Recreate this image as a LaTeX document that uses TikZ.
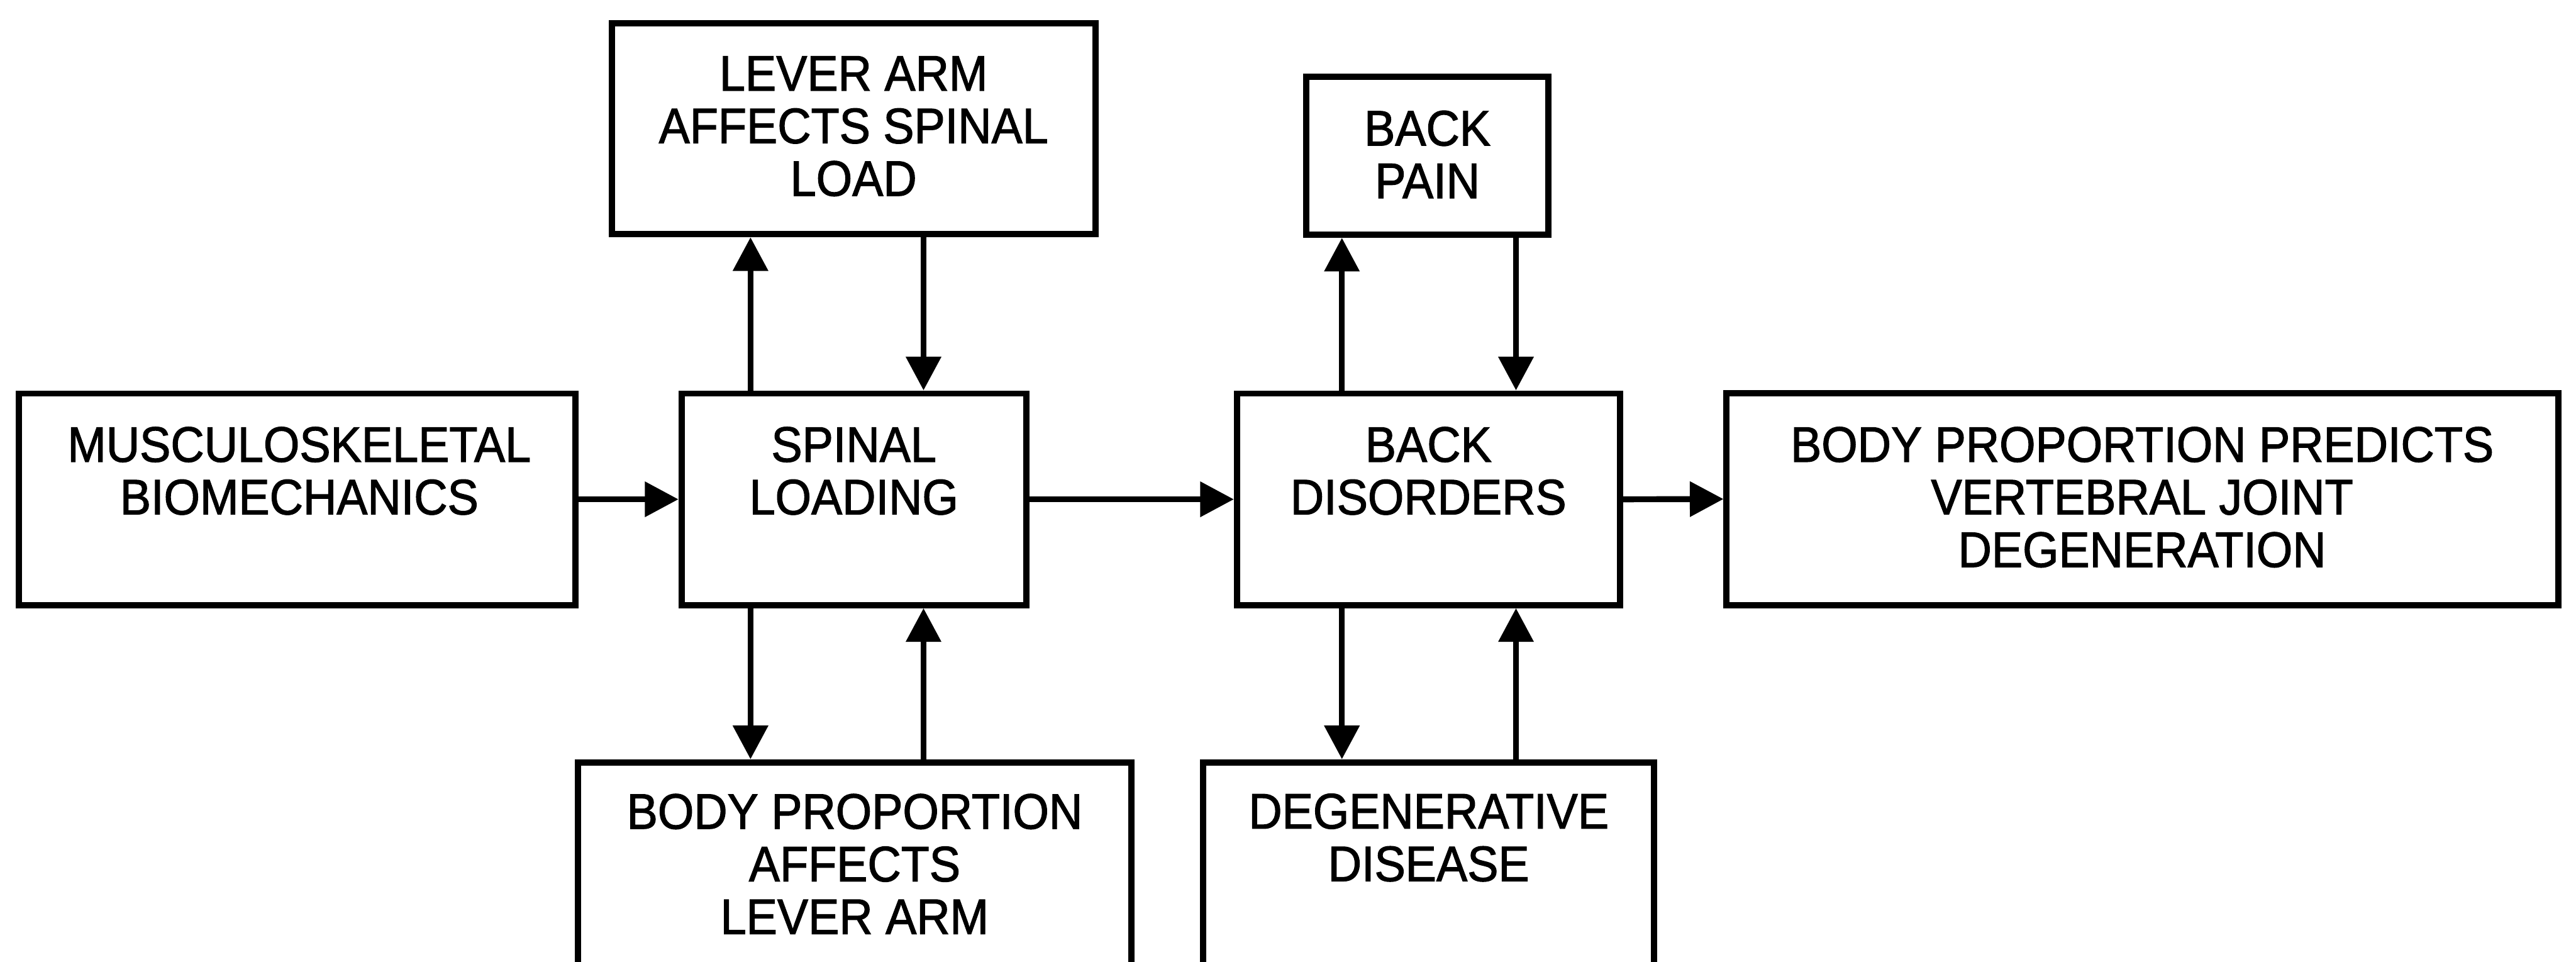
\documentclass[tikz,border=0pt]{standalone}
\usepackage{fontspec}
\setmainfont{Liberation Sans}[FakeStretch=0.93,FakeBold=1.5]
\usetikzlibrary{arrows.meta}
\begin{document}
\begin{tikzpicture}[
  box/.style={draw, line width=3.4pt, rectangle, inner sep=0pt},
  lbl/.style={align=center, inner sep=0pt, font=\fontsize{27}{28.45}\selectfont},
  arr/.style={line width=3.2pt, -{Triangle[length=0.64cm,width=0.65cm]}},
]
\useasboundingbox (0,0) rectangle (48.98,18.28);
\clip (0,0) rectangle (48.98,18.28);

% boxes
\node[box, minimum width=10.58cm, minimum height=4.02cm] (musc) at (5.65,8.79) {};
\node[box, minimum width=6.55cm, minimum height=4.02cm] (spinal) at (16.235,8.79) {};
\node[box, minimum width=9.20cm, minimum height=4.01cm] (lever) at (16.23,15.835) {};
\node[box, minimum width=10.52cm, minimum height=4.79cm] (body) at (16.25,1.395) {};
\node[box, minimum width=4.60cm, minimum height=3.00cm] (pain) at (27.14,15.32) {};
\node[box, minimum width=7.28cm, minimum height=4.02cm] (disord) at (27.16,8.79) {};
\node[box, minimum width=8.57cm, minimum height=4.79cm] (degen) at (27.165,1.395) {};
\node[box, minimum width=15.82cm, minimum height=4.03cm] (predict) at (40.74,8.795) {};

% texts
\node[lbl] (musct) at (5.69,9.33) {MUSCULOSKELETAL\\BIOMECHANICS};
\node[lbl] (spinalt) at (16.235,9.33) {SPINAL\\LOADING};
\node[lbl] (levert) at (16.23,15.88) {LEVER ARM\\AFFECTS SPINAL\\LOAD};
\node[lbl] (bodyt) at (16.25,1.86) {BODY PROPORTION\\AFFECTS\\LEVER ARM};
\node[lbl] (paint) at (27.14,15.345) {BACK\\PAIN};
\node[lbl] (disordt) at (27.16,9.33) {BACK\\DISORDERS};
\node[lbl] (degent) at (27.165,2.36) {DEGENERATIVE\\DISEASE};
\node[lbl] (predictt) at (40.73,8.83) {BODY PROPORTION PREDICTS\\VERTEBRAL JOINT\\DEGENERATION};

% horizontal connectors
\draw[arr] (musc.east) -- (spinal.west);
\draw[arr] (spinal.east) -- (disord.west);
\draw[arr] (disord.east) -- (predict.west);

% spinal loading <-> lever arm / body proportion
\draw[arr] ([xshift=-1.965cm]spinal.north) -- ([xshift=-1.965cm]spinal.north |- lever.south);
\draw[arr] ([xshift=1.325cm]spinal.north |- lever.south) -- ([xshift=1.325cm]spinal.north);
\draw[arr] ([xshift=-1.965cm]spinal.south) -- ([xshift=-1.965cm]spinal.south |- body.north);
\draw[arr] ([xshift=1.325cm]spinal.south |- body.north) -- ([xshift=1.325cm]spinal.south);

% back disorders <-> back pain / degenerative disease
\draw[arr] ([xshift=-1.645cm]disord.north) -- ([xshift=-1.645cm]disord.north |- pain.south);
\draw[arr] ([xshift=1.665cm]disord.north |- pain.south) -- ([xshift=1.665cm]disord.north);
\draw[arr] ([xshift=-1.645cm]disord.south) -- ([xshift=-1.645cm]disord.south |- degen.north);
\draw[arr] ([xshift=1.665cm]disord.south |- degen.north) -- ([xshift=1.665cm]disord.south);
\end{tikzpicture}
\end{document}
